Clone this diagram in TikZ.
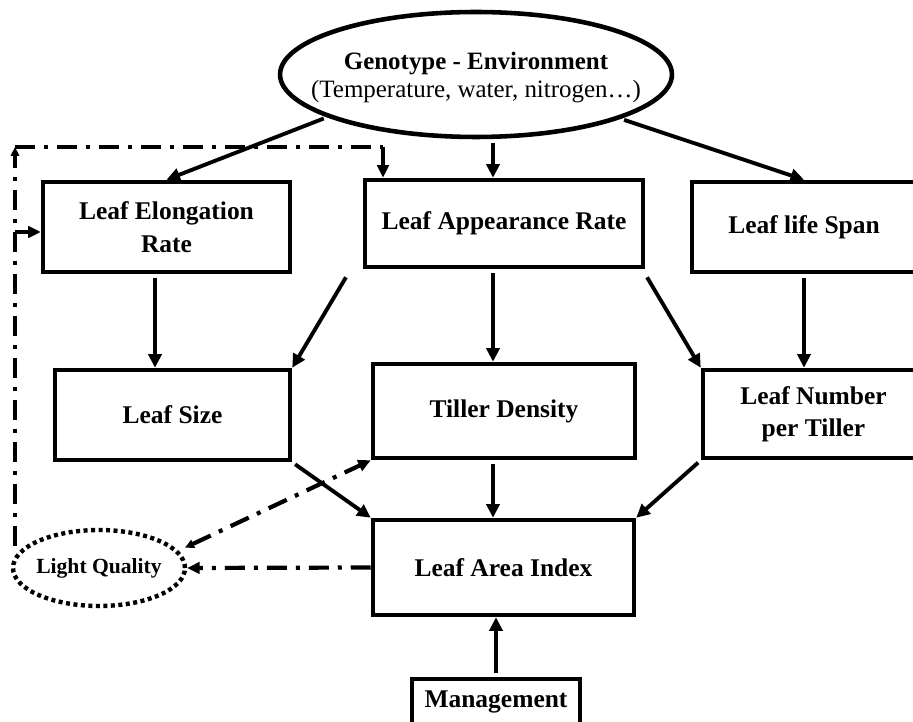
\documentclass[tikz,border=0pt]{standalone}
\usepackage{fontspec}
\setmainfont{Liberation Serif}
\usetikzlibrary{arrows.meta,shapes.geometric,calc}
\begin{document}
\begin{tikzpicture}[x=0.02cm,y=-0.02cm,
 box/.style={draw,line width=2.6pt,rectangle,align=center,inner sep=0pt,
   font=\fontsize{14.5}{18.5}\selectfont\bfseries},
 arr/.style={line width=2.2pt,-{Triangle[length=0.27cm,width=0.26cm]},shorten <=2pt},
 dd/.style={line width=2.4pt,dash pattern=on 0.4cm off 0.18cm on 0.08cm off 0.18cm},
 ddtip/.style={-{Triangle[length=0.25cm,width=0.23cm]}},
 ddtipsmall/.style={-{Triangle[length=0.18cm,width=0.17cm]}}]
\useasboundingbox (0,0) rectangle (913,722);
\clip (0,0) rectangle (913,722);

\node[draw,ellipse,line width=2.6pt,inner sep=0pt,minimum width=7.84cm,minimum height=2.5cm] (GE) at (476,74.5) {};
\node[align=center,inner sep=0pt,font=\fontsize{14.2}{16}\selectfont] (GEtext) at ([yshift=-0.06cm]GE.center)
  {\textbf{Genotype - Environment}\\(Temperature, water, nitrogen\ldots)};

\node[box,minimum width=4.94cm,minimum height=1.80cm] (LER) at (166.5,227) {Leaf Elongation\\Rate};
\node[box,minimum width=5.56cm,minimum height=1.74cm] (LAR) at (504,223.5) {Leaf Appearance Rate};
\node[box,minimum width=4.48cm,minimum height=1.80cm] (LLS) at (804,227) {Leaf life Span};
\node[box,minimum width=4.70cm,minimum height=1.80cm] (LS) at (172.5,415) {Leaf Size};
\node[box,minimum width=5.24cm,minimum height=1.88cm] (TD) at (504,411) {Tiller Density};
\node[box,minimum width=4.42cm,minimum height=1.76cm] (LNT) at (813.5,414) {Leaf Number\\per Tiller};
\node[box,minimum width=5.22cm,minimum height=1.90cm] (LAI) at (503.5,567.5) {Leaf Area Index};
\node[box,minimum width=3.36cm,minimum height=0.92cm] (MG) at (496,702) {Management};
\node[draw,ellipse,line width=2.5pt,dash pattern=on 0.08cm off 0.07cm,inner sep=0pt,
  minimum width=3.44cm,minimum height=1.52cm] (LQ) at (99,568) {};
\node[inner sep=0pt,font=\fontsize{12.3}{14}\selectfont\bfseries] (LQtext) at (LQ.center) {Light Quality};

% solid arrows
\draw[arr] (GE.196) -- (LER.north);
\draw[arr] ([xshift=-0.22cm]LAR.north |- GE.south) -- ([xshift=-0.22cm]LAR.north);
\draw[arr] (GE.-17) -- (LLS.north);
\draw[arr] ([xshift=-0.23cm]LER.south) -- ([xshift=-0.23cm]LER.south |- LS.north);
\draw[arr] ([xshift=-0.3cm,yshift=-0.1cm]LAR.south west) -- (LS.north east);
\draw[arr] ([xshift=-0.22cm]LAR.south) -- ([xshift=-0.22cm]LAR.south |- TD.north);
\draw[arr] ([yshift=-0.1cm]LAR.south east) -- (LNT.north west);
\draw[arr] (LLS.south) -- (LLS.south |- LNT.north);
\draw[arr] (LS.south east) -- (LAI.north west);
\draw[arr] ([xshift=-0.22cm]TD.south) -- ([xshift=-0.22cm]TD.south |- LAI.north);
\draw[arr] (LNT.south west) -- (LAI.north east);
\draw[arr] (MG.north) -- (MG.north |- LAI.south);

% dash-dot connectors
\draw[dd,ddtip] (LAI.west) -- (LQ.east);
\draw[dd,{Triangle[length=0.18cm,width=0.17cm]}-{Triangle[length=0.25cm,width=0.23cm]}] ([xshift=0.2cm]LQ.15) -- (TD.south west);

\coordinate (lqtop) at (15,546);
\coordinate (c1) at (15,147);
\coordinate (c2) at (383,147);
\coordinate (bp) at (15,232);
\draw[dd,ddtipsmall] (lqtop) -- (c1);
\draw[dd] (c1) -- (c2);
\draw[dd,ddtip] (c2) -- (c2 |- LAR.north);
\draw[line width=2.4pt,ddtip] (bp) -- (bp -| LER.west);
\end{tikzpicture}
\end{document}
